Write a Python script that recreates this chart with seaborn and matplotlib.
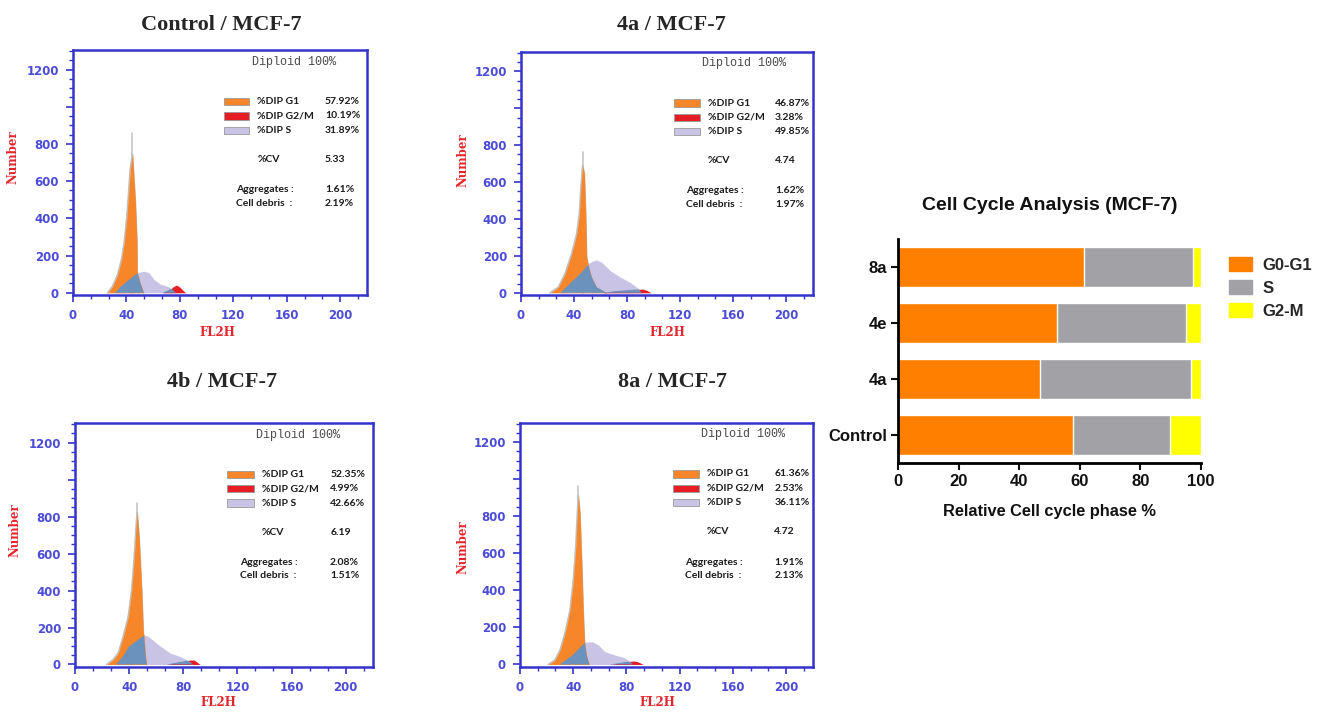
import numpy as np
import pandas as pd
import matplotlib.pyplot as plt
from matplotlib.ticker import MultipleLocator, AutoMinorLocator, FuncFormatter
from matplotlib.patches import Rectangle, Patch
import seaborn as sns

# ---- histogram curves (x = FL2H channel, y = count)
ctrl_g1_x = [25.9, 29.6, 33.4, 36.3, 38.3, 40.1, 41.6, 42.8, 44.5, 46.6, 47.8, 48.1, 50.7, 53.0]
ctrl_g1_y = [0, 35, 98, 179, 269, 394, 537, 663, 745, 501, 286, 109, 45, 0]
ctrl_s_x = [30.8, 36.0, 42.0, 47.8, 53.2, 56.9, 60.7, 65.7, 70.7, 74.4, 76.9]
ctrl_s_y = [0, 40, 75, 107, 116, 107, 71, 45, 35, 18, 0]
ctrl_g2_x = [66.9, 71.0, 73.1, 75.5, 77.6, 80.0, 82.0, 84.3]
ctrl_g2_y = [0, 12, 21, 35, 41, 30, 15, 0]
ctrl_raw_peak = 860

a4_g1_x = [21.9, 28.1, 33.2, 38.2, 42.0, 44.0, 45.2, 46.5, 47.8, 48.8, 49.5, 50.5, 53.3, 57.1, 64.6]
a4_g1_y = [0, 30, 103, 211, 320, 428, 573, 690, 645, 428, 193, 157, 85, 30, 0]
a4_s_x = [29.0, 34.0, 39.4, 45.0, 50.5, 54.0, 57.1, 61.0, 67.1, 74.7, 82.2, 87.3, 91.0]
a4_s_y = [0, 35, 72, 110, 157, 172, 178, 165, 121, 85, 57, 30, 0]
a4_g2_x = [62.0, 70.0, 80.0, 88.0, 92.0, 95.0, 98.0]
a4_g2_y = [0, 8, 14, 18, 20, 13, 0]
a4_raw_peak = 762

b4_g1_x = [23.4, 28.3, 32.0, 35.7, 39.4, 41.9, 43.8, 45.3, 46.0, 47.5, 49.3, 50.5, 51.0, 52.0, 53.0]
b4_g1_y = [0, 27, 63, 153, 261, 405, 584, 765, 823, 675, 405, 171, 153, 60, 0]
b4_s_x = [29.6, 35.0, 39.4, 45.0, 51.0, 54.0, 62.0, 70.0, 78.0, 84.0, 87.4]
b4_s_y = [0, 45, 99, 130, 160, 153, 105, 63, 42, 20, 0]
b4_g2_x = [68.0, 75.0, 81.0, 85.0, 88.0, 90.0, 92.4]
b4_g2_y = [0, 10, 18, 24, 24, 14, 0]
b4_raw_peak = 876

a8_g1_x = [21.3, 26.3, 30.1, 33.8, 37.6, 40.1, 41.9, 43.1, 43.8, 45.1, 46.4, 47.6, 48.4, 50.0, 52.1]
a8_g1_y = [0, 24, 78, 168, 294, 455, 635, 815, 914, 815, 546, 276, 132, 51, 0]
a8_s_x = [28.8, 38.9, 48.4, 54.5, 58.9, 63.9, 71.4, 78.2, 82.7, 85.2]
a8_s_y = [0, 51, 120, 123, 105, 69, 51, 38, 15, 0]
a8_g2_x = [67.7, 75.0, 80.0, 85.0, 88.0, 90.5, 92.7]
a8_g2_y = [0, 8, 14, 19, 16, 8, 0]
a8_raw_peak = 962

# ---- ModFit statistics: G1, G2/M, S, CV, aggregates, debris
ctrl_stats = ['57.92%', '10.19%', '31.89%', '5.33', '1.61%', '2.19%']
a4_stats = ['46.87%', '3.28%', '49.85%', '4.74', '1.62%', '1.97%']
b4_stats = ['52.35%', '4.99%', '42.66%', '6.19', '2.08%', '1.51%']
a8_stats = ['61.36%', '2.53%', '36.11%', '4.72', '1.91%', '2.13%']

# ---- summary bar chart
samples = ['8a', '4e', '4a', 'Control']
g0g1 = np.array([61.36, 52.35, 46.87, 57.92])
s_phase = np.array([36.11, 42.66, 49.85, 31.89])
g2m = np.array([2.53, 4.99, 3.28, 10.19])

ORANGE = '#f7862b'
RED = '#e51d24'
LAV = '#c9c4e6'
BLUE = '#6b91bd'
SPINE = '#3434cc'
TICKLAB = '#4c4cd6'
AXRED = '#e3262b'

sns.set_style('white')
plt.rcParams['font.family'] = ['DejaVu Sans']

W, H = 1318, 713
fig = plt.figure(figsize=(W / 100, H / 100), dpi=100)


def box(l, t, r, b):
    return [l / W, 1 - b / H, (r - l) / W, (b - t) / H]


def draw_hist(rect, dx, title, title_xy, ylab_xy, xlab_xy,
              g1x, g1y, sx, sy, g2x, g2y, raw_peak, stats):
    ax = fig.add_axes(box(*rect))
    ax.set_xlim(0, 220)
    ax.set_ylim(-12, 1305)

    # raw data spike / outline behind the fitted G1 peak
    i = int(np.argmax(g1y))
    ax.plot([g1x[i], g1x[i]], [0, raw_peak], color='#c6c6c6', lw=1.2, zorder=1)
    ax.plot(g1x, g1y, color='#c0c0c0', lw=1.2, zorder=1)

    ax.fill_between(sx, sy, color=LAV, lw=0, zorder=2)
    g1_fill = ax.fill_between(g1x, g1y, color=ORANGE, lw=0, zorder=3)
    g2_fill = ax.fill_between(g2x, g2y, color=RED, lw=0, zorder=3)
    # overlap of S with G1 / G2 shows as blue
    for clip in (g1_fill, g2_fill):
        ov = ax.fill_between(sx, sy, color=BLUE, lw=0, zorder=4)
        ov.set_clip_path(clip.get_paths()[0], ax.transData)

    for sp in ax.spines.values():
        sp.set_color(SPINE)
        sp.set_linewidth(1.8)
        sp.set_zorder(6)
    ax.xaxis.set_major_locator(MultipleLocator(40))
    ax.xaxis.set_minor_locator(AutoMinorLocator(3))
    ax.yaxis.set_major_locator(MultipleLocator(200))
    ax.yaxis.set_minor_locator(MultipleLocator(50))
    ax.yaxis.set_major_formatter(FuncFormatter(lambda v, p: '' if abs(v - 1000) < 1 else f'{v:.0f}'))
    ax.tick_params(which='both', direction='out', bottom=True, left=True,
                   color=SPINE, labelcolor=TICKLAB, labelsize=8.5, pad=5)
    ax.tick_params(which='major', length=5, width=1.2)
    ax.tick_params(which='minor', length=3, width=1.0)
    for lab in ax.get_xticklabels() + ax.get_yticklabels():
        lab.set_fontweight('bold')

    fig.text(title_xy[0] / W, 1 - title_xy[1] / H, title, ha='center', va='center',
             family='Liberation Serif', fontweight='bold', fontsize=16)
    fig.text(ylab_xy[0] / W, 1 - ylab_xy[1] / H, 'Number', rotation=90, ha='center', va='center',
             family='DejaVu Serif', fontweight='bold', fontsize=8.5, color=AXRED)
    fig.text(xlab_xy[0] / W, 1 - xlab_xy[1] / H, 'FL2H', ha='center', va='center',
             family='DejaVu Serif', fontweight='bold', fontsize=8.5, color=AXRED)

    tr = ax.transAxes
    ax.text(0.750 + dx, 0.953, 'Diploid 100%', transform=tr, ha='center', va='center',
            family='Liberation Mono', fontsize=8.5, color='#4a4a4a')
    rows = [(0.790, ORANGE, '%DIP G1', stats[0]),
            (0.731, RED, '%DIP G2/M', stats[1]),
            (0.672, LAV, '%DIP S', stats[2])]
    kw = dict(transform=tr, va='center', family='Lato', fontweight='bold', fontsize=7.5, color='#1a1a1a')
    for yy, col, lab, val in rows:
        ax.add_patch(Rectangle((0.512 + dx, yy - 0.015), 0.088, 0.030, transform=tr,
                               facecolor=col, edgecolor='#9a9a9a', lw=0.6, zorder=5))
        ax.text(0.627 + dx, yy, lab, **kw)
        ax.text(0.857 + dx, yy, val, **kw)
    ax.text(0.627 + dx, 0.553, '%CV', **kw)
    ax.text(0.857 + dx, 0.553, stats[3], **kw)
    ax.text(0.553 + dx, 0.429, 'Aggregates :', **kw)
    ax.text(0.857 + dx, 0.429, stats[4], **kw)
    ax.text(0.553 + dx, 0.373, 'Cell debris  :', **kw)
    ax.text(0.857 + dx, 0.373, stats[5], **kw)
    return ax


draw_hist((73, 50, 367, 295), 0.0, 'Control / MCF-7', (221, 25), (13, 157), (217, 333),
          ctrl_g1_x, ctrl_g1_y, ctrl_s_x, ctrl_s_y, ctrl_g2_x, ctrl_g2_y, ctrl_raw_peak, ctrl_stats)
draw_hist((521, 52, 812.7, 295), 0.014, '4a / MCF-7', (671, 25), (463, 160), (667, 333),
          a4_g1_x, a4_g1_y, a4_s_x, a4_s_y, a4_g2_x, a4_g2_y, a4_raw_peak, a4_stats)
draw_hist((75, 423.3, 372.7, 666.7), 0.0, '4b / MCF-7', (222, 382), (15, 530), (218, 703),
          b4_g1_x, b4_g1_y, b4_s_x, b4_s_y, b4_g2_x, b4_g2_y, b4_raw_peak, b4_stats)
draw_hist((520, 422.7, 812.7, 666.7), 0.012, '8a / MCF-7', (672, 382), (463, 547), (657, 703),
          a8_g1_x, a8_g1_y, a8_s_x, a8_s_y, a8_g2_x, a8_g2_y, a8_raw_peak, a8_stats)

# ---- stacked horizontal bar chart
bar_df = pd.DataFrame({'Sample': samples,
                       'Total': g0g1 + s_phase + g2m,
                       'G1S': g0g1 + s_phase,
                       'G1': g0g1})
ax2 = fig.add_axes(box(898.3, 239.3, 1200.7, 463.3))
sns.barplot(data=bar_df, x='Total', y='Sample', order=samples, color='#ffff00',
            saturation=1, width=0.72, ax=ax2)
sns.barplot(data=bar_df, x='G1S', y='Sample', order=samples, color='#a2a2a6',
            saturation=1, width=0.72, ax=ax2)
sns.barplot(data=bar_df, x='G1', y='Sample', order=samples, color='#ff8000',
            saturation=1, width=0.72, ax=ax2)
ax2.set_xlim(0, 100)
ax2.set_ylim(3.5, -0.5)
ax2.set_xlabel('')
ax2.set_ylabel('')
ax2.set_xticks([0, 20, 40, 60, 80, 100])
for side in ['top', 'right']:
    ax2.spines[side].set_visible(False)
for side in ['left', 'bottom']:
    ax2.spines[side].set_color('black')
    ax2.spines[side].set_linewidth(2)
ax2.tick_params(bottom=True, left=True, direction='out', length=5, width=1.5,
                labelsize=12, colors='#111111', pad=3)
for lab in ax2.get_xticklabels() + ax2.get_yticklabels():
    lab.set_fontweight('bold')
    lab.set_family('Liberation Sans')

fig.text(1049.5 / W, 1 - 205 / H, 'Cell Cycle Analysis (MCF-7)', ha='center', va='center',
         family='Liberation Sans', fontsize=14, fontweight='bold', color='#111111')
fig.text(1049 / W, 1 - 511.7 / H, 'Relative Cell cycle phase %', ha='center', va='center',
         family='Liberation Sans', fontsize=11.8, fontweight='bold', color='#111111')

handles = [Patch(color='#ff8000'), Patch(color='#a2a2a6'), Patch(color='#ffff00')]
fig.legend(handles, ['G0-G1', 'S', 'G2-M'], loc='upper left',
           bbox_to_anchor=(1229 / W, 1 - 257 / H), bbox_transform=fig.transFigure,
           frameon=False, borderpad=0, borderaxespad=0, handlelength=1.4, handleheight=0.9,
           labelspacing=0.45, handletextpad=0.6,
           prop={'size': 12, 'weight': 'bold', 'family': 'Liberation Sans'})

fig.savefig('out.png', dpi=100, facecolor='white')
